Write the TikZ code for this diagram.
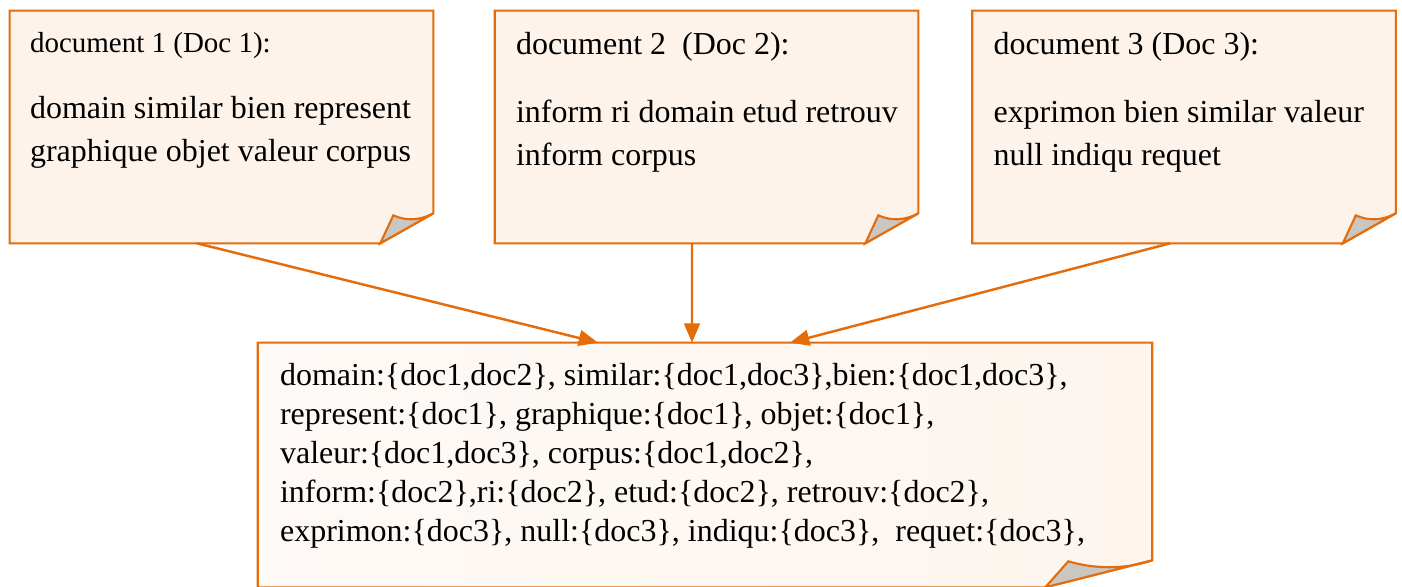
\documentclass[tikz,border=0pt]{standalone}
\usepackage{fontspec}
\setmainfont{Liberation Serif}
\usetikzlibrary{positioning, arrows.meta, calc}
\definecolor{noteline}{RGB}{228,108,10}
\definecolor{notefill}{RGB}{253,243,235}
\definecolor{foldgray}{RGB}{202,198,194}

\begin{document}
\begin{tikzpicture}[x=0.02cm, y=-0.02cm,
          font=\fontsize{18.2}{24.7}\selectfont,
          note/.style={inner sep=0pt, minimum width=8.46cm, minimum height=4.64cm},
          txt/.style={inner sep=0pt, anchor=north west, align=left},
          edge/.style={draw=noteline, line width=1.2pt, line join=miter},
          flow/.style={-{Triangle[length=11pt, width=9pt]}, line width=1.4pt, noteline}]
        \useasboundingbox (0,0) rectangle (1402,586);
        % the three documents
        \node[note] (d1) at ( 221.5,127) {};
        \node[note] (d2) at ( 706.5,127) {};
        \node[note] (d3) at (1184,127) {};
        \foreach \d in {d1,d2,d3}{
          \path[edge, fill=notefill] (\d.north west) -- (\d.north east) -- ($(\d.south east)+(0,-30)$)
            -- ($(\d.south east)+(-53,0)$) -- (\d.south west) -- cycle;
          \path[edge, fill=foldgray] ($(\d.south east)+(0,-30)$) .. controls ($(\d.south east)+(-13,-23)$)
            and ($(\d.south east)+(-27,-22)$) .. ($(\d.south east)+(-40,-28)$) -- ($(\d.south east)+(-53,0)$) -- cycle;
        }
        % the index
        \node[inner sep=0pt, minimum width=17.88cm, minimum height=4.88cm] (idx) at (705,465) {};
        \path[edge, left color=notefill!45!white, right color=notefill!85!white] (idx.north west) -- (idx.north east)
          -- ($(idx.south east)+(0,-27)$) -- ($(idx.south east)+(-107,0)$) -- (idx.south west) -- cycle;
        \path[edge, fill=foldgray] ($(idx.south east)+(0,-27)$) .. controls ($(idx.south east)+(-30,-17)$)
          and ($(idx.south east)+(-60,-19)$) .. ($(idx.south east)+(-84,-26)$) -- ($(idx.south east)+(-107,0)$) -- cycle;
        % texts
        \node[txt, font=\fontsize{16.5}{20}\selectfont] (t1) at ($(d1.north west)+(20,21)$) {document 1 (Doc 1):};
        \node[txt] (b1) at ($(d1.north west)+(20,85)$) {domain similar bien represent\\graphique objet valeur corpus};
        \node[txt] (t2) at ($(d2.north west)+(21,21)$) {document 2\ \ (Doc 2):};
        \node[txt] (b2) at ($(d2.north west)+(21,89)$) {inform ri domain etud retrouv\\inform corpus};
        \node[txt] (t3) at ($(d3.north west)+(21,21)$) {document 3 (Doc 3):};
        \node[txt] (b3) at ($(d3.north west)+(21,89)$) {exprimon bien similar valeur\\null indiqu requet};
        \node[txt, font=\fontsize{18.2}{22.3}\selectfont] (b4) at ($(idx.north west)+(22,20)$)
          {domain:\{doc1,doc2\}, similar:\{doc1,doc3\},bien:\{doc1,doc3\},\\
           represent:\{doc1\}, graphique:\{doc1\}, objet:\{doc1\},\\
           valeur:\{doc1,doc3\}, corpus:\{doc1,doc2\},\\
           inform:\{doc2\},ri:\{doc2\}, etud:\{doc2\}, retrouv:\{doc2\},\\
           exprimon:\{doc3\}, null:\{doc3\}, indiqu:\{doc3\},\ \ requet:\{doc3\},};
        % arrows
        \draw[flow] ([xshift=-0.49cm]d1.south) -- ([xshift=-2.14cm]idx.north);
        \draw[flow] ([xshift=-0.29cm]d2.south) -- ([xshift=-0.26cm]idx.north);
        \draw[flow] ([xshift=-0.28cm]d3.south) -- ([xshift=1.7cm]idx.north);
      \end{tikzpicture}
\end{document}
